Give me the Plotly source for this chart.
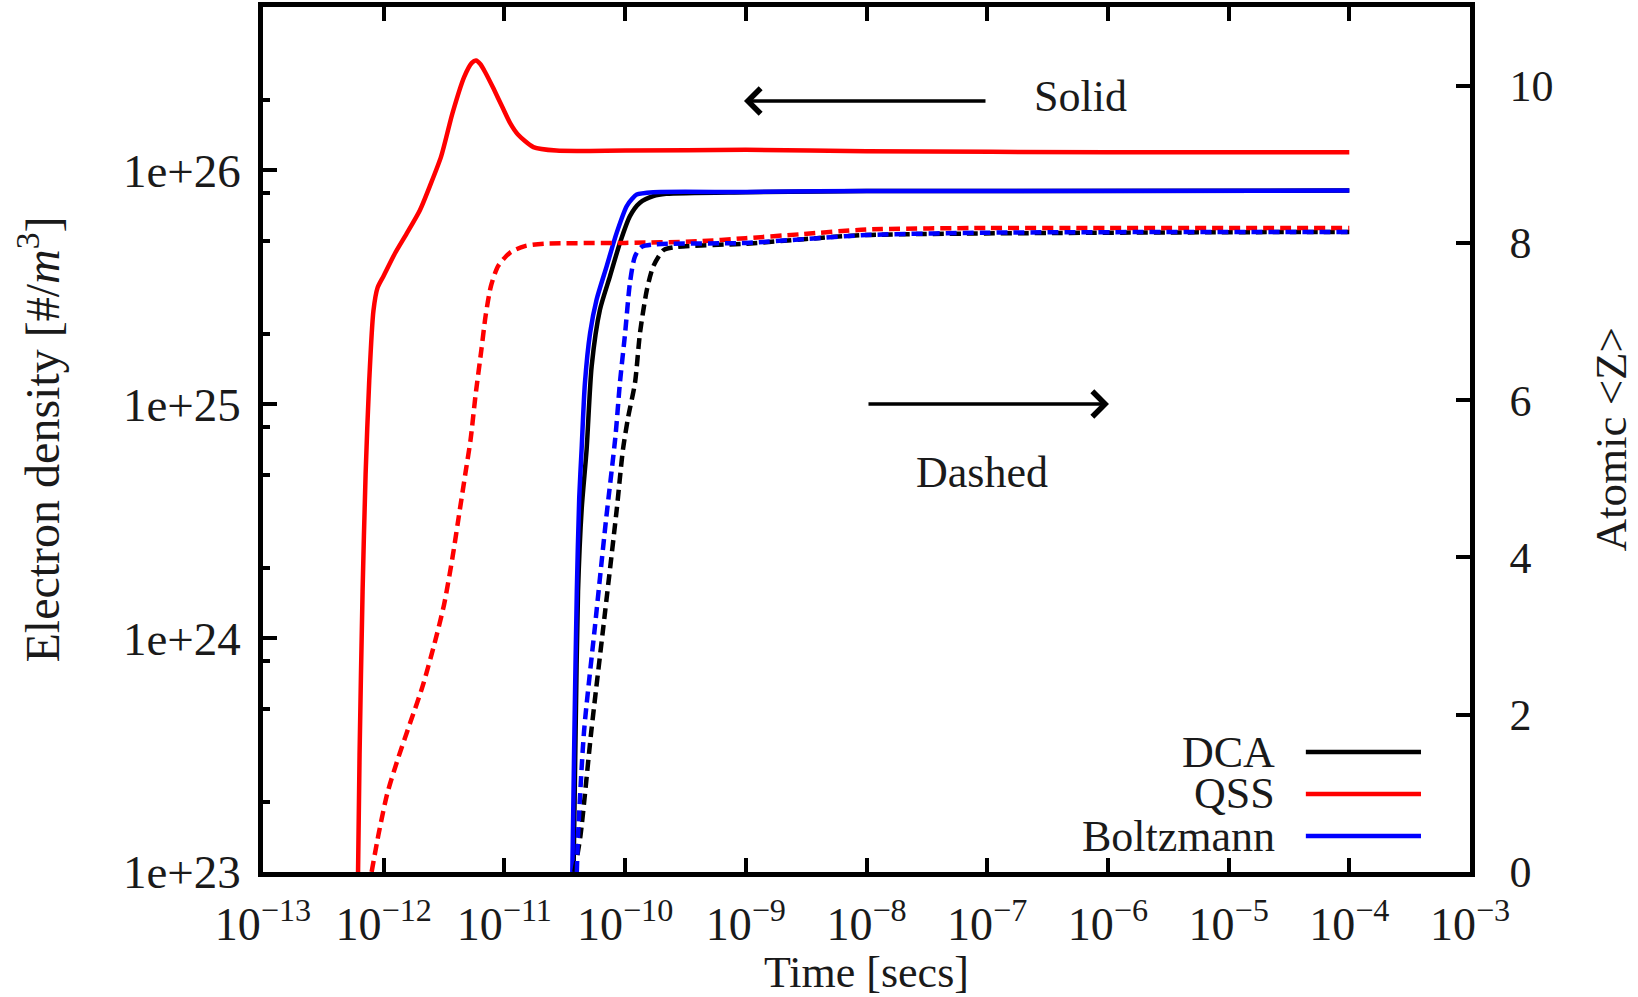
import numpy as np
import plotly.graph_objects as go

# ---------------- data (log10 of time [s]) ----------------
# Solid lines: electron density (left axis, log10 of #/m^3)
qss_ne_logt = [-12.215, -12.20, -12.175, -12.15, -12.12, -12.085, -12.05, -12.0, -11.905, -11.81,
               -11.70, -11.62, -11.524, -11.43, -11.333, -11.27, -11.235, -11.20, -11.159, -11.09,
               -11.016, -10.95, -10.89, -10.76, -10.57, -10.0, -9.0, -8.0, -6.0, -4.0]
qss_ne_log = [22.9, 23.5, 24.2, 24.7, 25.1, 25.40, 25.50, 25.55, 25.647, 25.73,
              25.83, 25.93, 26.06, 26.245, 26.40, 26.46, 26.47, 26.455, 26.42, 26.35,
              26.27, 26.20, 26.155, 26.10, 26.085, 26.085, 26.088, 26.082, 26.078, 26.078]

boltz_ne_logt = [-10.44, -10.42, -10.40, -10.38, -10.36, -10.333, -10.29, -10.236, -10.153, -10.07,
                 -9.987, -9.94, -9.904, -9.767, -9.0, -8.0, -4.0]
boltz_ne_log = [22.9, 23.6, 24.2, 24.6, 24.81, 25.09, 25.305, 25.448, 25.59, 25.733,
                25.847, 25.88, 25.897, 25.907, 25.908, 25.912, 25.914]

dca_ne_logt = [-10.43, -10.41, -10.39, -10.36, -10.319, -10.277, -10.208, -10.125, -10.043, -9.96,
               -9.877, -9.767, -9.66, -9.0, -8.0, -4.0]
dca_ne_log = [22.9, 23.6, 24.2, 24.55, 24.806, 25.163, 25.405, 25.548, 25.69, 25.805,
              25.862, 25.89, 25.90, 25.907, 25.912, 25.914]

# Dashed lines: average ionisation <Z> (right axis)
qss_z_logt = [-12.10, -12.04, -11.97, -11.88, -11.78, -11.68, -11.58, -11.50, -11.43, -11.37,
              -11.32, -11.28, -11.24, -11.19, -11.155, -11.11, -11.05, -10.95, -10.83, -10.67,
              -10.0, -9.4, -9.0, -8.55, -8.0, -7.0, -6.0, -4.0]
qss_z = [0.0, 0.5, 1.0, 1.45, 1.9, 2.35, 2.9, 3.4, 4.0, 4.6,
         5.1, 5.5, 6.05, 6.65, 7.08, 7.46, 7.71, 7.88, 7.96, 7.99,
         8.0, 8.02, 8.06, 8.11, 8.17, 8.19, 8.19, 8.19]

boltz_z_logt = [-10.40, -10.39, -10.34, -10.25, -10.16, -10.08, -10.043, -10.0, -9.96, -9.918,
                -9.863, -9.77, -9.0, -8.5, -8.0, -7.0, -4.0]
boltz_z = [0.0, 0.46, 1.79, 3.12, 4.45, 5.54, 6.22, 6.85, 7.49, 7.83,
           7.95, 7.98, 8.0, 8.05, 8.10, 8.13, 8.14]

dca_z_logt = [-10.42, -10.37, -10.28, -10.18, -10.07, -10.018, -9.974, -9.918, -9.877, -9.82,
              -9.767, -9.68, -9.573, -9.0, -8.5, -8.0, -4.0]
dca_z = [0.0, 0.46, 1.79, 3.12, 4.6, 5.37, 5.79, 6.22, 6.85, 7.40,
         7.70, 7.91, 7.95, 7.99, 8.05, 8.10, 8.14]

x_tick_exps = [-13, -12, -11, -10, -9, -8, -7, -6, -5, -4, -3]
y_tick_exps = [23, 24, 25, 26]
y2_ticks = [0, 2, 4, 6, 8, 10]

names = ["DCA", "QSS", "Boltzmann"]
colors = {"DCA": "#000000", "QSS": "#ff0000", "Boltzmann": "#0000ff"}

FONT = "Liberation Serif"
FS = 44
LW = 4.5
TXT = "#1a1a1a"

fig = go.Figure()

series = [
    ("DCA", dca_ne_logt, dca_ne_log, dca_z_logt, dca_z),
    ("QSS", qss_ne_logt, qss_ne_log, qss_z_logt, qss_z),
    ("Boltzmann", boltz_ne_logt, boltz_ne_log, boltz_z_logt, boltz_z),
]
for name, tne, ne, tz, z in series:
    fig.add_trace(go.Scatter(
        x=10 ** np.array(tz), y=z, yaxis="y2", mode="lines",
        line=dict(color=colors[name], width=LW, dash="11px,6px", shape="spline", smoothing=0.7),
        showlegend=False, name=name + " <Z>"))
for name, tne, ne, tz, z in series:
    fig.add_trace(go.Scatter(
        x=10 ** np.array(tne), y=10 ** np.array(ne), mode="lines",
        line=dict(color=colors[name], width=LW, shape="spline", smoothing=0.7),
        showlegend=False, name=name + " ne"))

minor_vals = [k * 10.0 ** n for n in range(23, 27) for k in (2, 5, 8) if k * 10.0 ** n < 5e26]

axis_common = dict(showline=True, linecolor="black", linewidth=4.5, ticks="inside",
                   tickcolor="black", tickwidth=3.5, ticklen=14, showgrid=False, zeroline=False,
                   tickfont=dict(family=FONT, size=FS, color=TXT))

fig.update_layout(
    width=1638, height=997,
    margin=dict(l=263, r=168, t=7, b=125),
    paper_bgcolor="white", plot_bgcolor="white",
    font=dict(family=FONT, size=FS, color=TXT),
    xaxis=dict(type="log", range=[-13, -3], tickmode="array",
               tickvals=[10.0 ** e for e in x_tick_exps],
               ticktext=["10<sup>\u2212%d</sup>" % (-e) for e in x_tick_exps],
               mirror="ticks", ticklabelstandoff=8, automargin=False,
               **{**axis_common, "tickfont": dict(family=FONT, size=46, color=TXT)}),
    yaxis=dict(type="log", range=[23, np.log10(5e26)], tickmode="array",
               tickvals=[10.0 ** e for e in y_tick_exps],
               ticktext=["1e+%d" % e for e in y_tick_exps],
               minor=dict(ticks="inside", ticklen=7, tickwidth=3.5, tickcolor="black",
                          tickmode="array", tickvals=minor_vals, showgrid=False),
               mirror=True, ticklabelstandoff=8, automargin=False,
               **{**axis_common, "tickfont": dict(family=FONT, size=47, color=TXT)}),
    yaxis2=dict(overlaying="y", side="right", range=[0, 11], tickmode="array",
                tickvals=y2_ticks, ticklabelstandoff=26, automargin=False, **axis_common),
)

# axis titles
fig.add_annotation(text="Time [secs]", xref="paper", yref="paper", x=0.5, y=0,
                   xanchor="center", yanchor="middle", yshift=-100, showarrow=False,
                   font=dict(family=FONT, size=FS, color=TXT))
fig.add_annotation(text="Electron density [#/<i>m</i><sup>3</sup>]", xref="paper", yref="paper",
                   x=0, y=0.5, xanchor="center", yanchor="middle", xshift=-225, textangle=-90,
                   showarrow=False, font=dict(family=FONT, size=48, color=TXT))
fig.add_annotation(text="Atomic &lt;Z&gt;", xref="paper", yref="paper",
                   x=1, y=0.5, xanchor="center", yanchor="middle", xshift=140, textangle=-90,
                   showarrow=False, font=dict(family=FONT, size=45, color=TXT))

# Solid / Dashed labels and arrows
fig.add_annotation(text="Solid", xref="paper", yref="paper", x=0.6777, y=0.896,
                   xanchor="center", yanchor="middle",
                   showarrow=False, font=dict(family=FONT, size=FS, color=TXT))
fig.add_annotation(text="Dashed", xref="paper", yref="paper", x=0.5957, y=0.4624,
                   xanchor="center", yanchor="middle",
                   showarrow=False, font=dict(family=FONT, size=FS, color=TXT))
fig.add_annotation(text="", xref="paper", yref="paper", x=0.3985, y=0.8913, ax=243, ay=0,
                   showarrow=True, arrowhead=4, arrowsize=1.4, arrowwidth=3.5, arrowcolor="black")
fig.add_annotation(text="", xref="paper", yref="paper", x=0.7009, y=0.541, ax=-242, ay=0,
                   showarrow=True, arrowhead=4, arrowsize=1.4, arrowwidth=3.5, arrowcolor="black")

# Legend (text right-aligned, line sample to the right)
leg_y = [0.1387, 0.0902, 0.0416]
for name, yy in zip(names, leg_y):
    fig.add_shape(type="line", xref="paper", yref="paper", x0=0.864, x1=0.9594, y0=yy, y1=yy,
                  line=dict(color=colors[name], width=LW))
    fig.add_annotation(text=name, xref="paper", yref="paper", x=0.840, y=yy,
                       xanchor="right", yanchor="middle", showarrow=False,
                       font=dict(family=FONT, size=FS, color=TXT))

fig.write_html("out.html")
